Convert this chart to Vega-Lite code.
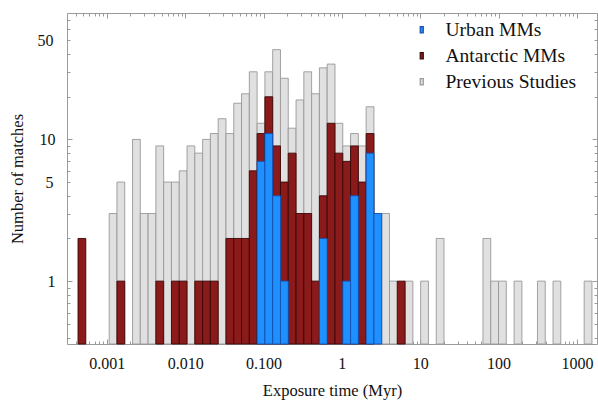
{
  "$schema": "https://vega.github.io/schema/vega-lite/v6.json",
  "width": 530,
  "height": 331,
  "autosize": {"type": "none"},
  "padding": {"left": 67, "top": 13, "right": 1, "bottom": 56},
  "background": "white",
  "config": {
    "view": {"stroke": "#9a9a9a", "strokeWidth": 1},
    "font": "Liberation Serif",
    "axis": {"labelFont": "Liberation Serif", "titleFont": "Liberation Serif", "labelColor": "#111", "titleColor": "#111", "titleFontWeight": "normal", "grid": false, "domain": false, "tickColor": "#9a9a9a", "tickWidth": 1}
  },
  "data": {"values": [
    {"lo": 0.0010705, "hi": 0.001346, "series": "Previous Studies", "n": 3},
    {"lo": 0.001346, "hi": 0.001692, "series": "Previous Studies", "n": 5},
    {"lo": 0.002127, "hi": 0.002674, "series": "Previous Studies", "n": 10},
    {"lo": 0.002674, "hi": 0.003362, "series": "Previous Studies", "n": 3},
    {"lo": 0.003362, "hi": 0.004227, "series": "Previous Studies", "n": 3},
    {"lo": 0.004227, "hi": 0.005313, "series": "Previous Studies", "n": 9},
    {"lo": 0.005313, "hi": 0.00668, "series": "Previous Studies", "n": 5},
    {"lo": 0.00668, "hi": 0.008399, "series": "Previous Studies", "n": 5},
    {"lo": 0.008399, "hi": 0.010559, "series": "Previous Studies", "n": 6},
    {"lo": 0.010559, "hi": 0.01327, "series": "Previous Studies", "n": 9},
    {"lo": 0.01327, "hi": 0.01669, "series": "Previous Studies", "n": 8},
    {"lo": 0.01669, "hi": 0.02098, "series": "Previous Studies", "n": 10},
    {"lo": 0.02098, "hi": 0.02638, "series": "Previous Studies", "n": 11},
    {"lo": 0.02638, "hi": 0.03316, "series": "Previous Studies", "n": 14},
    {"lo": 0.03316, "hi": 0.04169, "series": "Previous Studies", "n": 11},
    {"lo": 0.04169, "hi": 0.05241, "series": "Previous Studies", "n": 18},
    {"lo": 0.05241, "hi": 0.06589, "series": "Previous Studies", "n": 21},
    {"lo": 0.06589, "hi": 0.08284, "series": "Previous Studies", "n": 30},
    {"lo": 0.08284, "hi": 0.1041, "series": "Previous Studies", "n": 13},
    {"lo": 0.1041, "hi": 0.1309, "series": "Previous Studies", "n": 30},
    {"lo": 0.1309, "hi": 0.1646, "series": "Previous Studies", "n": 43},
    {"lo": 0.1646, "hi": 0.2069, "series": "Previous Studies", "n": 27},
    {"lo": 0.2069, "hi": 0.2602, "series": "Previous Studies", "n": 12},
    {"lo": 0.2602, "hi": 0.327, "series": "Previous Studies", "n": 19},
    {"lo": 0.327, "hi": 0.4111, "series": "Previous Studies", "n": 30},
    {"lo": 0.4111, "hi": 0.5168, "series": "Previous Studies", "n": 21},
    {"lo": 0.5168, "hi": 0.6498, "series": "Previous Studies", "n": 32},
    {"lo": 0.6498, "hi": 0.8169, "series": "Previous Studies", "n": 34},
    {"lo": 0.8169, "hi": 1.027, "series": "Previous Studies", "n": 13},
    {"lo": 1.027, "hi": 1.291, "series": "Previous Studies", "n": 9},
    {"lo": 1.291, "hi": 1.623, "series": "Previous Studies", "n": 11},
    {"lo": 1.623, "hi": 2.041, "series": "Previous Studies", "n": 9},
    {"lo": 2.041, "hi": 2.566, "series": "Previous Studies", "n": 17},
    {"lo": 2.566, "hi": 3.226, "series": "Previous Studies", "n": 3},
    {"lo": 3.226, "hi": 4.055, "series": "Previous Studies", "n": 3},
    {"lo": 4.055, "hi": 5.098, "series": "Previous Studies", "n": 1},
    {"lo": 6.409, "hi": 8.058, "series": "Previous Studies", "n": 1},
    {"lo": 10.13, "hi": 12.74, "series": "Previous Studies", "n": 1},
    {"lo": 16.01, "hi": 20.13, "series": "Previous Studies", "n": 2},
    {"lo": 63.22, "hi": 79.48, "series": "Previous Studies", "n": 2},
    {"lo": 79.48, "hi": 99.91, "series": "Previous Studies", "n": 1},
    {"lo": 99.91, "hi": 125.6, "series": "Previous Studies", "n": 1},
    {"lo": 157.9, "hi": 198.5, "series": "Previous Studies", "n": 1},
    {"lo": 313.8, "hi": 394.5, "series": "Previous Studies", "n": 1},
    {"lo": 496.0, "hi": 623.4, "series": "Previous Studies", "n": 1},
    {"lo": 1239, "hi": 1557, "series": "Previous Studies", "n": 1},
    {"lo": 0.0004285, "hi": 0.0005387, "series": "Antarctic MMs", "n": 2},
    {"lo": 0.001346, "hi": 0.001692, "series": "Antarctic MMs", "n": 1},
    {"lo": 0.004227, "hi": 0.005313, "series": "Antarctic MMs", "n": 1},
    {"lo": 0.00668, "hi": 0.008399, "series": "Antarctic MMs", "n": 1},
    {"lo": 0.008399, "hi": 0.010559, "series": "Antarctic MMs", "n": 1},
    {"lo": 0.01327, "hi": 0.01669, "series": "Antarctic MMs", "n": 1},
    {"lo": 0.01669, "hi": 0.02098, "series": "Antarctic MMs", "n": 1},
    {"lo": 0.02098, "hi": 0.02638, "series": "Antarctic MMs", "n": 1},
    {"lo": 0.03316, "hi": 0.04169, "series": "Antarctic MMs", "n": 2},
    {"lo": 0.04169, "hi": 0.05241, "series": "Antarctic MMs", "n": 2},
    {"lo": 0.05241, "hi": 0.06589, "series": "Antarctic MMs", "n": 2},
    {"lo": 0.06589, "hi": 0.08284, "series": "Antarctic MMs", "n": 6},
    {"lo": 0.08284, "hi": 0.1041, "series": "Antarctic MMs", "n": 11},
    {"lo": 0.1041, "hi": 0.1309, "series": "Antarctic MMs", "n": 20},
    {"lo": 0.1309, "hi": 0.1646, "series": "Antarctic MMs", "n": 9},
    {"lo": 0.1646, "hi": 0.2069, "series": "Antarctic MMs", "n": 5},
    {"lo": 0.2069, "hi": 0.2602, "series": "Antarctic MMs", "n": 8},
    {"lo": 0.2602, "hi": 0.327, "series": "Antarctic MMs", "n": 3},
    {"lo": 0.327, "hi": 0.4111, "series": "Antarctic MMs", "n": 3},
    {"lo": 0.4111, "hi": 0.5168, "series": "Antarctic MMs", "n": 1},
    {"lo": 0.5168, "hi": 0.6498, "series": "Antarctic MMs", "n": 4},
    {"lo": 0.6498, "hi": 0.8169, "series": "Antarctic MMs", "n": 13},
    {"lo": 0.8169, "hi": 1.027, "series": "Antarctic MMs", "n": 8},
    {"lo": 1.027, "hi": 1.291, "series": "Antarctic MMs", "n": 7},
    {"lo": 1.291, "hi": 1.623, "series": "Antarctic MMs", "n": 9},
    {"lo": 1.623, "hi": 2.041, "series": "Antarctic MMs", "n": 5},
    {"lo": 2.041, "hi": 2.566, "series": "Antarctic MMs", "n": 11},
    {"lo": 5.098, "hi": 6.409, "series": "Antarctic MMs", "n": 1},
    {"lo": 0.08284, "hi": 0.1041, "series": "Urban MMs", "n": 7},
    {"lo": 0.1041, "hi": 0.1309, "series": "Urban MMs", "n": 11},
    {"lo": 0.1309, "hi": 0.1646, "series": "Urban MMs", "n": 4},
    {"lo": 0.1646, "hi": 0.2069, "series": "Urban MMs", "n": 1},
    {"lo": 0.5168, "hi": 0.6498, "series": "Urban MMs", "n": 2},
    {"lo": 1.027, "hi": 1.291, "series": "Urban MMs", "n": 1},
    {"lo": 1.291, "hi": 1.623, "series": "Urban MMs", "n": 4},
    {"lo": 2.041, "hi": 2.566, "series": "Urban MMs", "n": 8},
    {"lo": 2.566, "hi": 3.226, "series": "Urban MMs", "n": 3}
  ]},
  "resolve": {"axis": {"x": "independent", "y": "independent"}},
  "layer": [
    {
      "mark": {"type": "bar", "strokeWidth": 0.9, "opacity": 1},
      "encoding": {
        "x": {"field": "lo", "type": "quantitative",
          "scale": {"type": "log", "domain": [0.00031, 1806], "nice": false},
          "axis": {"orient": "bottom", "title": "Exposure time (Myr)", "titleFontSize": 16.5, "titlePadding": 9,
            "labelFontSize": 16,
            "values": [0.0004,0.0005,0.0006,0.0007,0.0008,0.0009,0.001,0.002,0.003,0.004,0.005,0.006,0.007,0.008,0.009,0.01,0.02,0.03,0.04,0.05,0.06,0.07,0.08,0.09,0.1,0.2,0.3,0.4,0.5,0.6,0.7,0.8,0.9,1,2,3,4,5,6,7,8,9,10,20,30,40,50,60,70,80,90,100,200,300,400,500,600,700,800,900,1000],
            "labelExpr": "indexof([0.001,0.01,0.1], datum.value) >= 0 ? format(datum.value, '.3f') : (indexof([1,10,100,1000], datum.value) >= 0 ? format(datum.value, 'd') : '')",
            "tickSize": {"condition": {"test": "indexof([0.001,0.01,0.1,1,10,100,1000], datum.value) >= 0", "value": -5}, "value": -3},
            "labelPadding": 16, "labelFlush": false, "labelOverlap": false}},
        "x2": {"field": "hi"},
        "y": {"field": "n", "type": "quantitative",
          "scale": {"type": "log", "domain": [0.36, 78], "nice": false},
          "axis": {"orient": "left", "title": "Number of matches", "titleFontSize": 16.5, "titlePadding": 12,
            "labelFontSize": 16,
            "values": [0.4,0.5,0.6,0.7,0.8,0.9,1,2,3,4,5,6,7,8,9,10,20,30,40,50,60,70],
            "labelExpr": "indexof([1,5,10,50], datum.value) >= 0 ? format(datum.value, 'd') : ''",
            "tickSize": {"condition": {"test": "indexof([1,10], datum.value) >= 0", "value": -5}, "value": -3},
            "labelPadding": 17, "labelOverlap": false}},
        "y2": {"datum": 0.36},
        "color": {"field": "series", "type": "nominal",
          "scale": {"domain": ["Urban MMs", "Antarctic MMs", "Previous Studies"], "range": ["#1e90ff", "#8b1a1a", "#e0e0e0"]},
          "legend": {"title": null, "orient": "none", "legendX": 345, "legendY": 7, "padding": 0,
            "labelFont": "Liberation Serif", "labelFontSize": 19.5, "labelColor": "#111", "labelOffset": 14,
            "symbolType": "M-0.25,-0.5H0.25V0.5H-0.25Z", "symbolSize": 150, "symbolStrokeWidth": 1.2, "rowPadding": 5}},
        "stroke": {"field": "series", "type": "nominal",
          "scale": {"domain": ["Urban MMs", "Antarctic MMs", "Previous Studies"], "range": ["#1450b0", "#3a0808", "#999999"]},
          "legend": {"title": null, "orient": "none", "legendX": 345, "legendY": 7, "padding": 0,
            "labelFont": "Liberation Serif", "labelFontSize": 19.5, "labelColor": "#111", "labelOffset": 14,
            "symbolType": "M-0.25,-0.5H0.25V0.5H-0.25Z", "symbolSize": 150, "symbolStrokeWidth": 1.2, "rowPadding": 5}}
      }
    },
    {
      "mark": {"type": "bar", "opacity": 0},
      "encoding": {
        "x": {"field": "lo", "type": "quantitative",
          "axis": {"orient": "top", "title": null, "labels": false,
            "values": [0.0004,0.0005,0.0006,0.0007,0.0008,0.0009,0.001,0.002,0.003,0.004,0.005,0.006,0.007,0.008,0.009,0.01,0.02,0.03,0.04,0.05,0.06,0.07,0.08,0.09,0.1,0.2,0.3,0.4,0.5,0.6,0.7,0.8,0.9,1,2,3,4,5,6,7,8,9,10,20,30,40,50,60,70,80,90,100,200,300,400,500,600,700,800,900,1000],
            "tickSize": {"condition": {"test": "indexof([0.001,0.01,0.1,1,10,100,1000], datum.value) >= 0", "value": -5}, "value": -3}}},
        "x2": {"field": "hi"},
        "y": {"field": "n", "type": "quantitative",
          "axis": {"orient": "right", "title": null, "labels": false,
            "values": [0.4,0.5,0.6,0.7,0.8,0.9,1,2,3,4,5,6,7,8,9,10,20,30,40,50,60,70],
            "tickSize": {"condition": {"test": "indexof([1,10], datum.value) >= 0", "value": -5}, "value": -3}}},
        "y2": {"datum": 0.36}
      }
    }
  ]
}
